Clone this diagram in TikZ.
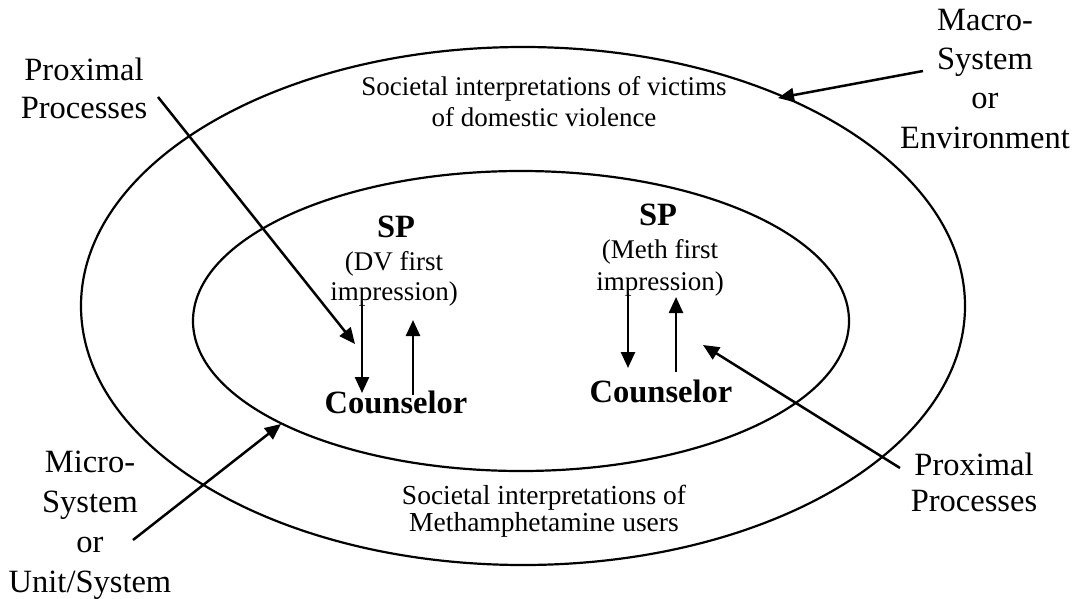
\documentclass[tikz,border=0pt]{standalone}
\usepackage{fontspec}
\setmainfont{Liberation Serif}
\usetikzlibrary{arrows.meta}
\tikzstyle{bigtext} = [
    font=\fontsize{32.5}{38.5}\selectfont, align=center, anchor=base, inner sep=0pt,
]
\tikzstyle{smalltext} = [
    font=\fontsize{27}{31}\selectfont, align=center, anchor=base, inner sep=0pt,
]
\tikzstyle{boldtext} = [
    font=\fontsize{32.5}{38.5}\selectfont\bfseries, anchor=base, inner sep=0pt,
]
\tikzstyle{ring} = [line width=2.2pt]
\tikzstyle{arrow} = [-{Triangle[length=16pt,width=14pt]}, line width=2.5pt]

\begin{document}
\begin{tikzpicture}[x=1pt,y=-1pt]
    \useasboundingbox (0,0) rectangle (1078,599);
    % macro-system and micro-system
    \draw[ring] (523,306) ellipse [x radius=442pt, y radius=259pt];
    \draw[ring] (521,321) ellipse [x radius=328pt, y radius=150pt];

    % multi-line texts sit on the base of their last line
    \node (dvsociety) at (544,127) [smalltext] {Societal interpretations of victims\\of domestic violence};
    \node (methsociety) at (544,531) [smalltext, font=\fontsize{27.5}{26.5}\selectfont] {Societal interpretations of\\Methamphetamine users};

    \node (dvsp) at (396,237) [boldtext] {SP};
    \node (dvnote) at (394,300) [smalltext, font=\fontsize{27}{30}\selectfont] {(DV first\\impression)};
    \node (dvcounselor) at (396,413) [boldtext] {Counselor};

    \node (methsp) at (658,225) [boldtext] {SP};
    \node (methnote) at (660,290) [smalltext, font=\fontsize{27}{32}\selectfont] {(Meth first\\impression)};
    \node (methcounselor) at (661,402) [boldtext] {Counselor};

    \node (proxl) at (84,119) [bigtext] {Proximal\\Processes};
    \node (macro) at (985,148) [bigtext, font=\fontsize{32.5}{39.3}\selectfont] {Macro-\\System\\or\\Environment};
    \node (micro) at (90,592) [bigtext, font=\fontsize{32.5}{40}\selectfont] {Micro-\\System\\or\\Unit/System};
    \node (proxr) at (974,511) [bigtext, font=\fontsize{32.5}{36}\selectfont] {Proximal\\Processes};

    % arrow ends
    \coordinate (dvdowntop) at (362,305);
    \coordinate (dvdownend) at (362,393);
    \coordinate (dvupbot) at (413,395);
    \coordinate (dvuptip) at (413,320);
    \coordinate (methdowntop) at (628,293);
    \coordinate (methdownend) at (628,368);
    \coordinate (methupbot) at (676,372);
    \coordinate (methuptip) at (676,297);
    \coordinate (proxlstart) at (158,97);
    \coordinate (proxltip) at (355,344);
    \coordinate (proxrstart) at (900,468);
    \coordinate (proxrtip) at (703,345);
    \coordinate (microstart) at (133,540);
    \coordinate (microtip) at (281,424);
    \coordinate (macrostart) at (923,71);
    \coordinate (macrotip) at (778,98);

    \draw[arrow] (dvdowntop) -- (dvdownend);
    \draw[arrow] (dvupbot) -- (dvuptip);
    \draw[arrow] (methdowntop) -- (methdownend);
    \draw[arrow] (methupbot) -- (methuptip);
    \draw[arrow] (proxlstart) -- (proxltip);
    \draw[arrow] (proxrstart) -- (proxrtip);
    \draw[arrow] (microstart) -- (microtip);
    \draw[arrow] (macrostart) -- (macrotip);
\end{tikzpicture}
\end{document}
